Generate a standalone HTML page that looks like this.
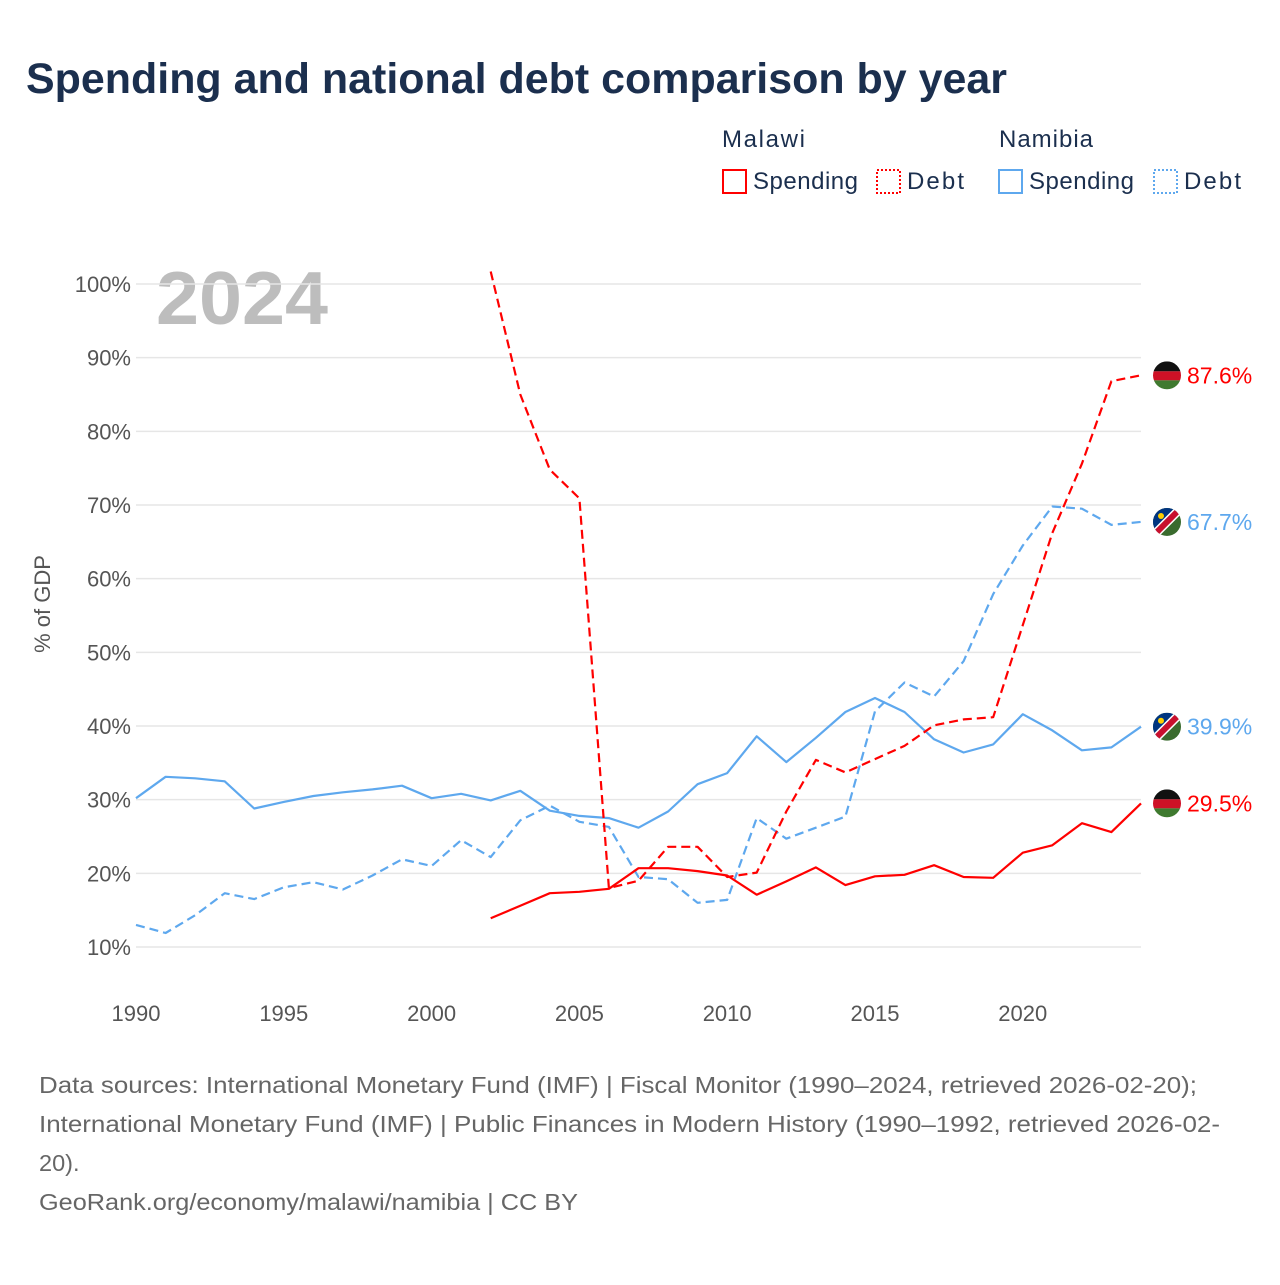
<!DOCTYPE html>
<html><head><meta charset="utf-8"><style>
body{margin:0;background:#fff;font-family:"Liberation Sans",sans-serif;}
svg text{font-family:"Liberation Sans",sans-serif;}
</style></head><body>
<svg width="1280" height="1280" viewBox="0 0 1280 1280">
<text x="26" y="93" font-size="43" font-weight="bold" fill="#1b2f4e" textLength="981" lengthAdjust="spacingAndGlyphs">Spending and national debt comparison by year</text>
<g font-size="24" fill="#1b2f4e">
<text x="722" y="147" textLength="83">Malawi</text>
<text x="999" y="147" textLength="94">Namibia</text>
<g><rect x="723" y="170" width="23" height="23" fill="none" stroke="#f00" stroke-width="2"/><text x="753" y="189" textLength="105">Spending</text></g>
<g><rect x="877" y="170" width="23" height="23" fill="none" stroke="#f00" stroke-width="2" stroke-dasharray="2,2"/><text x="907" y="189" textLength="57">Debt</text></g>
<g><rect x="999" y="170" width="23" height="23" fill="none" stroke="#5ea8ee" stroke-width="2"/><text x="1029" y="189" textLength="105">Spending</text></g>
<g><rect x="1154" y="170" width="23" height="23" fill="none" stroke="#5ea8ee" stroke-width="2" stroke-dasharray="2,2"/><text x="1184" y="189" textLength="57">Debt</text></g>
</g>
<text x="156" y="324" font-size="75" font-weight="bold" fill="#bdbdbd" textLength="172" lengthAdjust="spacingAndGlyphs">2024</text>
<text transform="translate(50,604) rotate(-90)" text-anchor="middle" font-size="22" fill="#555">% of GDP</text>
<g id="grid"></g><g id="series"></g><g id="ends"></g>
<g font-size="23.5" fill="#666">
<text x="39" y="1093" textLength="1158" lengthAdjust="spacingAndGlyphs">Data sources: International Monetary Fund (IMF) | Fiscal Monitor (1990–2024, retrieved 2026-02-20);</text>
<text x="39" y="1132" textLength="1181" lengthAdjust="spacingAndGlyphs">International Monetary Fund (IMF) | Public Finances in Modern History (1990–1992, retrieved 2026-02-</text>
<text x="39" y="1171">20).</text>
<text x="39" y="1210" textLength="539" lengthAdjust="spacingAndGlyphs">GeoRank.org/economy/malawi/namibia | CC BY</text>
</g>
</svg>
<script>
const yTicks=[10,20,30,40,50,60,70,80,90,100];
const xTicks=[1990,1995,2000,2005,2010,2015,2020];
const namSpendYears=[1990,1991,1992,1993,1994,1995,1996,1997,1998,1999,2000,2001,2002,2003,2004,2005,2006,2007,2008,2009,2010,2011,2012,2013,2014,2015,2016,2017,2018,2019,2020,2021,2022,2023,2024];
const namSpend=[30.2,33.1,32.9,32.5,28.8,29.7,30.5,31.0,31.4,31.9,30.2,30.8,29.9,31.2,28.5,27.8,27.5,26.2,28.4,32.1,33.6,38.6,35.1,38.4,41.9,43.8,41.9,38.2,36.4,37.5,41.6,39.4,36.7,37.1,39.9];
const namDebt=[13.0,11.9,14.3,17.3,16.5,18.1,18.8,17.8,19.7,21.9,21.0,24.5,22.2,27.2,29.2,27.0,26.3,19.5,19.2,16.0,16.4,27.5,24.7,26.2,27.7,42.0,45.9,44.0,48.8,57.9,64.5,69.8,69.5,67.3,67.7];
const malYears=[2002,2003,2004,2005,2006,2007,2008,2009,2010,2011,2012,2013,2014,2015,2016,2017,2018,2019,2020,2021,2022,2023,2024];
const malSpend=[13.9,15.6,17.3,17.5,17.9,20.7,20.7,20.3,19.7,17.1,18.9,20.8,18.4,19.6,19.8,21.1,19.5,19.4,22.8,23.8,26.8,25.6,29.5];
const malDebt=[101.7,85.0,74.8,70.9,18.0,19.0,23.6,23.6,19.5,20.1,28.4,35.4,33.7,35.5,37.3,40.1,40.9,41.2,53.7,66.2,75.6,86.8,87.6];
const NS="http://www.w3.org/2000/svg";
const X=y=>136+(y-1990)*(1141-136)/34;
const Y=v=>947-(v-10)*(947-284)/90;
function mk(tag,at,parent){const e=document.createElementNS(NS,tag);for(const k in at)e.setAttribute(k,at[k]);parent.appendChild(e);return e;}
const grid=document.getElementById('grid');
yTicks.forEach(t=>{
 const l=mk('line',{x1:136,x2:1141,y1:Y(t),y2:Y(t),stroke:'#e6e6e6','stroke-width':1.5},grid);
 
 
 const tx=mk('text',{x:131,y:Y(t)+8,'text-anchor':'end','font-size':22,fill:'#555'},grid);
 tx.textContent=t+'%';
 
 
});
xTicks.forEach(t=>{
 const tx=mk('text',{x:X(t),y:1021,'text-anchor':'middle','font-size':22,fill:'#555'},grid);
 tx.textContent=t;
 
 
});
const ser=document.getElementById('series');
function line(years,vals,color,dash,name){
 const d=years.map((y,i)=>(i?'L':'M')+X(y).toFixed(1)+','+Y(vals[i]).toFixed(1)).join('');
 const p=mk('path',{d:d,fill:'none',stroke:color,'stroke-width':2.2,'stroke-dasharray':dash||'none','stroke-linejoin':'round'},ser);
 
 
}
line(namSpendYears,namSpend,'#5ea8ee','', 'namibia-spending-line');
line(namSpendYears,namDebt,'#5ea8ee','9,5','namibia-debt-line');
line(malYears,malSpend,'#f00','', 'malawi-spending-line');
line(malYears,malDebt,'#f00','9,5','malawi-debt-line');
const ends=document.getElementById('ends');
function flag(v,country,color,name){
 const cx=1167,cy=Y(v);
 const g=mk('g',{},ends);
 
 
 const id='c'+name;
 const cp=mk('clipPath',{id:id},g);mk('circle',{cx:cx,cy:cy,r:14},cp);
 const f=mk('g',{'clip-path':'url(#'+id+')'},g);
 if(country==='mw'){
  mk('rect',{x:cx-14,y:cy-14,width:28,height:10,fill:'#111'},f);
  mk('rect',{x:cx-14,y:cy-4,width:28,height:9,fill:'#ce1126'},f);
  mk('rect',{x:cx-14,y:cy+5,width:28,height:9,fill:'#3f7a2f'},f);
 }else{
  mk('rect',{x:cx-14,y:cy-14,width:28,height:28,fill:'#3a6b2e'},f);
  mk('polygon',{points:`${cx-14},${cy-14} ${cx+14},${cy-14} ${cx-14},${cy+14}`,fill:'#003580'},f);
  mk('line',{x1:cx-16,y1:cy+16,x2:cx+16,y2:cy-16,stroke:'#fff','stroke-width':9},f);
  mk('line',{x1:cx-16,y1:cy+16,x2:cx+16,y2:cy-16,stroke:'#c8102e','stroke-width':6},f);
  mk('circle',{cx:cx-6,cy:cy-6,r:3,fill:'#ffce00'},f);
 }
 const t=mk('text',{x:1187,y:cy+8,'font-size':23,fill:color},g);
 t.textContent=v.toFixed(1)+'%';
}
flag(malDebt[malDebt.length-1],'mw','#f00','malawi-debt-end-label');
flag(namDebt[namDebt.length-1],'na','#5ea8ee','namibia-debt-end-label');
flag(namSpend[namSpend.length-1],'na','#5ea8ee','namibia-spending-end-label');
flag(malSpend[malSpend.length-1],'mw','#f00','malawi-spending-end-label');
</script>
</body></html>
